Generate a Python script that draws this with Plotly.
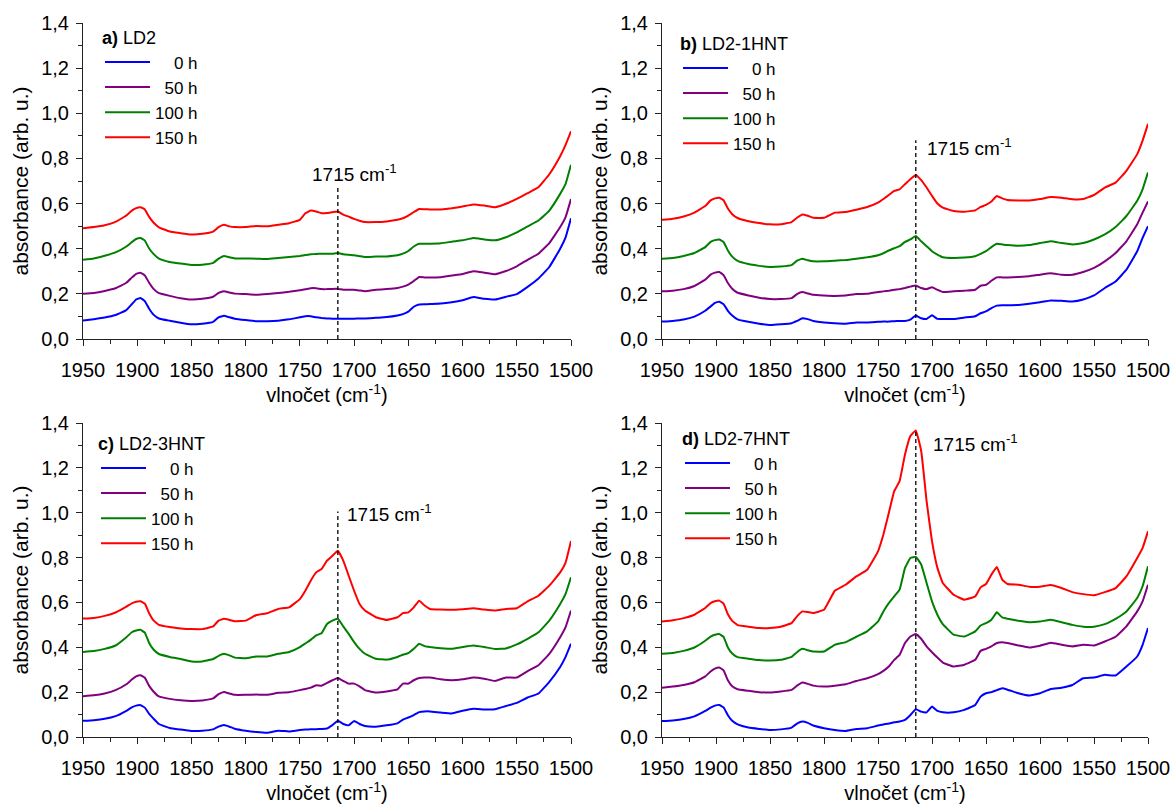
import plotly.graph_objects as go

# Wavenumber grid (cm-1) shared by all spectra
wavenumber = [1950, 1940, 1930, 1920, 1910, 1905, 1901, 1897, 1893, 1889,
              1885, 1880, 1870, 1860, 1850, 1840, 1830, 1825, 1820, 1815,
              1810, 1800, 1790, 1780, 1770, 1760, 1750, 1745, 1740, 1735,
              1730, 1725, 1720, 1715, 1710, 1705, 1700, 1695, 1690, 1680,
              1670, 1660, 1655, 1650, 1645, 1640, 1635, 1630, 1620, 1610,
              1600, 1590, 1580, 1570, 1560, 1550, 1540, 1530, 1520, 1510,
              1505, 1500]

times = ["0 h", "50 h", "100 h", "150 h"]
colors = ["#0000ff", "#800080", "#008000", "#ff0000"]

# a) LD2
ld2_0 = [.082, .088, .095, .106, .128, .154, .175, .182, .168, .134, .108, .091, .081, .072, .065, .068, .076, .096, .103, .096, .090,
         .084, .079, .079, .081, .087, .096, .101, .101, .096, .093, .091, .090, .090, .090, .090, .090, .091, .091, .094, .097,
         .104, .110, .121, .143, .153, .154, .155, .157, .163, .172, .186, .178, .175, .187, .199, .231, .268, .319, .400, .450, .535]
ld2_50 = [.200, .204, .213, .225, .249, .272, .289, .294, .282, .249, .222, .203, .191, .181, .175, .178, .187, .204, .212, .206, .201,
          .199, .196, .199, .204, .209, .216, .220, .225, .225, .221, .221, .222, .222, .218, .218, .218, .215, .212, .218, .221,
          .226, .232, .241, .257, .275, .273, .272, .274, .281, .288, .300, .294, .287, .301, .322, .351, .378, .425, .496, .540, .620]
ld2_100 = [.351, .357, .369, .384, .410, .429, .443, .447, .436, .401, .377, .356, .341, .334, .328, .329, .337, .356, .368, .362, .357,
           .357, .356, .354, .359, .363, .368, .372, .375, .377, .378, .378, .378, .381, .375, .373, .371, .367, .363, .365, .366,
           .371, .378, .390, .410, .422, .422, .422, .424, .431, .437, .447, .441, .437, .451, .472, .499, .525, .569, .643, .687, .772]
ld2_150 = [.491, .496, .504, .519, .547, .569, .580, .584, .574, .541, .516, .495, .476, .469, .463, .466, .476, .496, .506, .499, .496,
           .496, .501, .499, .506, .513, .528, .557, .569, .565, .557, .558, .562, .565, .551, .542, .532, .524, .518, .518, .521,
           .528, .535, .547, .562, .576, .575, .574, .574, .579, .587, .596, .591, .584, .599, .621, .646, .672, .730, .810, .860, .920]

# b) LD2-1HNT
hnt1_0 = [.077, .080, .086, .099, .125, .144, .160, .165, .154, .125, .104, .087, .076, .068, .062, .065, .070, .080, .092, .088, .080,
          .073, .070, .068, .073, .073, .076, .077, .077, .079, .080, .080, .086, .104, .092, .089, .105, .089, .089, .089, .095,
          .101, .114, .122, .137, .148, .150, .150, .151, .156, .163, .171, .169, .166, .175, .193, .226, .255, .307, .389, .448, .500]
hnt1_50 = [.211, .214, .221, .235, .263, .285, .294, .297, .283, .248, .223, .205, .193, .183, .177, .177, .181, .199, .208, .202, .196,
           .193, .191, .193, .199, .200, .208, .211, .214, .218, .221, .226, .232, .237, .226, .221, .229, .218, .208, .211, .214,
           .218, .236, .240, .258, .273, .273, .273, .275, .278, .285, .291, .285, .285, .297, .315, .344, .381, .433, .508, .560, .610]
hnt1_100 = [.356, .359, .368, .381, .407, .430, .438, .441, .430, .392, .365, .346, .332, .324, .319, .321, .327, .347, .356, .349, .344,
            .344, .347, .350, .356, .362, .371, .380, .392, .402, .411, .430, .441, .456, .433, .411, .389, .374, .362, .359, .361,
            .367, .377, .389, .407, .422, .419, .416, .413, .416, .425, .433, .425, .419, .425, .441, .463, .496, .545, .612, .663, .738]
hnt1_150 = [.528, .533, .543, .560, .589, .614, .623, .626, .615, .578, .553, .536, .522, .514, .508, .508, .518, .537, .552, .546, .537,
            .537, .560, .563, .573, .585, .604, .620, .638, .656, .663, .686, .708, .727, .704, .671, .634, .600, .582, .567, .564,
            .570, .585, .594, .609, .634, .623, .616, .614, .614, .620, .629, .626, .619, .620, .638, .671, .693, .745, .819, .879, .953]

# c) LD2-3HNT
hnt3_0 = [.072, .075, .081, .093, .117, .132, .140, .142, .131, .103, .082, .058, .040, .033, .027, .028, .034, .046, .053, .046, .037,
          .028, .022, .019, .028, .025, .031, .033, .034, .035, .036, .038, .053, .072, .058, .052, .071, .058, .049, .046, .052,
          .061, .078, .087, .098, .111, .114, .114, .109, .105, .117, .126, .123, .124, .138, .152, .176, .194, .246, .312, .357, .416]
hnt3_50 = [.182, .186, .194, .209, .235, .256, .270, .275, .264, .228, .203, .181, .170, .164, .161, .163, .172, .191, .201, .194, .188,
           .188, .189, .188, .197, .200, .209, .214, .220, .231, .229, .241, .253, .263, .250, .238, .238, .226, .209, .198, .203,
           .212, .238, .238, .253, .263, .265, .265, .257, .253, .257, .265, .260, .250, .265, .265, .294, .320, .371, .445, .490, .564]
hnt3_100 = [.379, .383, .393, .408, .445, .467, .475, .478, .465, .419, .390, .370, .357, .348, .337, .337, .348, .362, .371, .364, .354,
            .351, .359, .359, .371, .379, .401, .417, .433, .453, .463, .504, .519, .527, .493, .460, .423, .393, .371, .349, .345,
            .357, .367, .374, .393, .416, .405, .401, .396, .393, .401, .408, .401, .392, .395, .413, .438, .467, .519, .593, .638, .712]
hnt3_150 = [.528, .531, .540, .555, .581, .596, .603, .605, .595, .552, .520, .500, .490, .484, .481, .481, .493, .519, .527, .522, .516,
            .519, .544, .552, .571, .578, .615, .652, .697, .734, .749, .786, .808, .830, .786, .719, .652, .593, .564, .534, .522,
            .534, .552, .556, .578, .608, .586, .571, .568, .567, .570, .574, .568, .564, .571, .574, .605, .630, .675, .734, .778, .874]

# d) LD2-7HNT
hnt7_0 = [.071, .074, .080, .092, .116, .131, .140, .143, .132, .097, .072, .056, .042, .036, .031, .034, .042, .060, .069, .063, .051,
          .039, .031, .027, .036, .039, .051, .056, .060, .066, .069, .076, .098, .124, .113, .110, .136, .116, .110, .110, .121,
          .143, .180, .195, .200, .209, .217, .211, .195, .185, .195, .214, .220, .232, .262, .265, .277, .274, .314, .359, .411, .486]
hnt7_50 = [.220, .225, .232, .244, .270, .292, .305, .310, .297, .253, .226, .213, .206, .200, .198, .203, .210, .229, .243, .237, .229,
           .225, .229, .235, .250, .262, .280, .295, .314, .344, .366, .419, .448, .459, .438, .404, .378, .354, .332, .314, .322,
           .344, .384, .393, .404, .419, .423, .419, .408, .399, .407, .420, .411, .404, .411, .408, .426, .447, .493, .560, .605, .679]
hnt7_100 = [.371, .375, .384, .399, .429, .448, .456, .459, .446, .399, .372, .356, .349, .343, .341, .344, .357, .378, .393, .387, .381,
            .381, .411, .423, .447, .471, .515, .560, .597, .627, .657, .754, .798, .803, .769, .687, .605, .545, .503, .456, .448,
            .471, .497, .508, .523, .556, .533, .527, .518, .512, .515, .523, .512, .500, .492, .492, .503, .527, .560, .620, .672, .761]
hnt7_150 = [.515, .521, .530, .545, .575, .597, .605, .608, .595, .547, .518, .499, .492, .486, .486, .492, .508, .538, .560, .557, .553,
            .567, .652, .679, .716, .746, .828, .903, .999, 1.096, 1.141, 1.260, 1.342, 1.367, 1.275, 1.052, .873, .754, .687, .634, .612,
            .627, .667, .682, .724, .758, .702, .682, .679, .670, .670, .678, .664, .646, .637, .632, .646, .664, .716, .798, .843, .917]

panel_titles = ["<b>a)</b> LD2", "<b>b)</b> LD2-1HNT", "<b>c)</b> LD2-3HNT", "<b>d)</b> LD2-7HNT"]
panel_series = [
    [ld2_0, ld2_50, ld2_100, ld2_150],
    [hnt1_0, hnt1_50, hnt1_100, hnt1_150],
    [hnt3_0, hnt3_50, hnt3_100, hnt3_150],
    [hnt7_0, hnt7_50, hnt7_100, hnt7_150],
]
carbonyl_band = 1715
carbonyl_marker_top = [0.67, 0.88, 1.005, 1.373]

W, H = 1173, 805
FONT = "Liberation Sans, Arial, sans-serif"
TICK_SIZE = 20
XTITLE_SIZE = 20
YTITLE_SIZE = 21
LEGEND_SIZE = 17
LEGEND_TITLE_SIZE = 18

# pixel boxes of the four plot areas: (left, right, top, bottom)
boxes = [(83, 571, 23, 339), (662, 1148, 23, 339), (83, 571, 423, 737), (662, 1148, 423, 737)]
# legend anchor (left, top) in pixels and label anchor for the band marker
legend_pos = [(100, 21), (678, 27), (96, 427), (680, 422)]
band_label = [(310, 173), (925, 147), (345, 513), (931, 443)]


def px_x(p):
    return p / W


def px_y(p):
    return 1 - p / H


def pad_label(t):
    # pad the hour labels with two no-break spaces per missing digit
    n = len(t.split(" ")[0])
    return "\u00a0\u00a0" * (3 - n) + t


fig = go.Figure()
layout = dict(
    width=W, height=H, margin=dict(l=0, r=0, t=0, b=0),
    paper_bgcolor="white", plot_bgcolor="white",
    separators=", ", font=dict(family=FONT, size=TICK_SIZE, color="black"),
    showlegend=True, shapes=[], annotations=[],
)

for i, series in enumerate(panel_series):
    k = "" if i == 0 else str(i + 1)
    leg = "legend" if i == 0 else f"legend{i + 1}"
    for t, c, ys in zip(times, colors, series):
        fig.add_trace(go.Scatter(
            x=wavenumber, y=ys, mode="lines", name=pad_label(t),
            line=dict(color=c, width=2, shape="spline", smoothing=0.3),
            xaxis="x" + k, yaxis="y" + k, legend=leg,
        ))
    l, r, tp, bt = boxes[i]
    axis_common = dict(
        showline=True, linecolor="#222", linewidth=1, mirror=False,
        ticks="outside", ticklen=6, tickwidth=1, tickcolor="#222",
        showgrid=False, zeroline=False, automargin=False,
        tickfont=dict(family=FONT, size=TICK_SIZE, color="black"),
    )
    layout["xaxis" + k] = dict(
        axis_common, domain=[px_x(l), px_x(r)], anchor="y" + k,
        range=[1950, 1500], tick0=1500, dtick=50, ticklabelstandoff=7,
        minor=dict(ticks="outside", ticklen=4, dtick=25, tick0=1500, tickcolor="#222", showgrid=False),
        title=dict(text="vlnočet (cm<sup>-1</sup>)", font=dict(family=FONT, size=XTITLE_SIZE), standoff=2),
    )
    layout["yaxis" + k] = dict(
        axis_common, domain=[px_y(bt), px_y(tp)], anchor="x" + k,
        range=[0, 1.4], tick0=0, dtick=0.2, tickformat=".1f", ticklabelstandoff=3,
        minor=dict(ticks="outside", ticklen=4, dtick=0.1, tick0=0, tickcolor="#222", showgrid=False),
        title=dict(text="absorbance (arb. u.)", font=dict(family=FONT, size=YTITLE_SIZE), standoff=6),
    )
    lx, ly = legend_pos[i]
    layout[leg] = dict(
        x=px_x(lx), y=px_y(ly), xanchor="left", yanchor="top",
        bgcolor="rgba(0,0,0,0)", borderwidth=0,
        font=dict(family=FONT, size=LEGEND_SIZE, color="black"),
        title=dict(text=panel_titles[i], font=dict(family=FONT, size=LEGEND_TITLE_SIZE), side="top"),
        tracegroupgap=0, itemwidth=45,
    )
    layout["shapes"].append(dict(
        type="line", xref="x" + k, yref="y" + k,
        x0=carbonyl_band, x1=carbonyl_band, y0=0, y1=carbonyl_marker_top[i],
        line=dict(color="black", width=1.3, dash="4px,3px"),
    ))
    bx, by = band_label[i]
    layout["annotations"].append(dict(
        xref="paper", yref="paper", x=px_x(bx), y=px_y(by),
        xanchor="left", yanchor="middle", showarrow=False,
        text=f"{carbonyl_band} cm<sup>-1</sup>", font=dict(family=FONT, size=19, color="black"),
    ))

fig.update_layout(**layout)
fig.write_html("out.html")
